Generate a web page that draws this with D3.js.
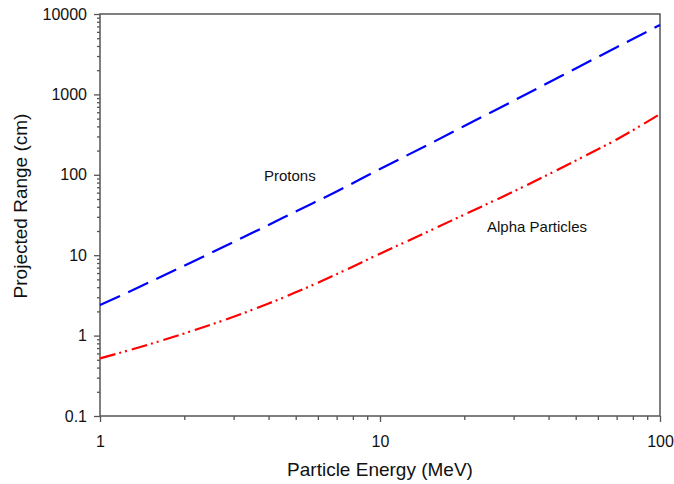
<!DOCTYPE html>
<html>
<head>
<meta charset="utf-8">
<script src="https://cdn.jsdelivr.net/npm/d3@7"></script>
<style>
  body { margin: 0; background: #fff; }
  text { font-family: "Liberation Sans", Arial, sans-serif; fill: #111; }
</style>
</head>
<body>
<svg class="chart" width="674" height="484"></svg>
<script>
// particle energy (MeV)
const energies = [1, 1.5, 2, 3, 4, 5, 7, 10, 15, 20, 30, 50, 70, 100]
// projected range (cm)
const protonRange = [2.4, 4.6, 7.4, 14.6, 23.8, 35, 62, 118, 241, 404, 835, 2100, 3860, 7300]
const alphaRange = [0.52, 0.78, 1.064, 1.716, 2.51, 3.45, 5.81, 10.46, 20, 32, 62, 150, 275, 570]

const xTickLabels = [1, 10, 100]
const yTickLabels = [0.1, 1, 10, 100, 1000, 10000]

const margin = { top: 14, right: 14, bottom: 68, left: 100 }
const width = 674 - margin.left - margin.right
const height = 484 - margin.top - margin.bottom

const svg = d3.select('svg.chart')
const g = svg.append('g').attr('transform', `translate(${margin.left},${margin.top})`)

const x = d3.scaleLog().domain([1, 100]).range([0, width])
const y = d3.scaleLog().domain([0.1, 10000]).range([height, 0])

const axisColor = '#555'

// minor ticks, 2..9 in each decade
const xMinor = []
for (let d = 1; d < 100; d *= 10) for (let k = 2; k <= 9; k++) xMinor.push(d * k)
const yMinor = []
for (let d = 0.1; d < 10000; d *= 10) for (let k = 2; k <= 9; k++) yMinor.push(+(d * k).toPrecision(3))

g.append('g').attr('transform', `translate(0,${height})`)
  .call(d3.axisBottom(x).tickValues(xTickLabels).tickFormat(d3.format('d')).tickSize(6).tickPadding(14))
g.append('g').attr('transform', `translate(0,${height})`)
  .call(d3.axisBottom(x).tickValues(xMinor).tickFormat('').tickSize(4))

g.append('g')
  .call(d3.axisLeft(y).tickValues(yTickLabels).tickFormat(d => String(d)).tickSize(6).tickPadding(7))
g.append('g')
  .call(d3.axisLeft(y).tickValues(yMinor).tickFormat('').tickSize(3))

g.selectAll('.domain').remove()
g.selectAll('.tick line').attr('stroke', axisColor).attr('stroke-width', 1.3)
g.selectAll('.tick text').style('font-size', '16px').attr('fill', '#111')

// frame
g.append('rect')
  .attr('width', width)
  .attr('height', height)
  .attr('fill', 'none')
  .attr('stroke', axisColor)
  .attr('stroke-width', 1.5)

const line = d3.line()
  .x(d => x(d[0]))
  .y(d => y(d[1]))
  .curve(d3.curveMonotoneX)

g.append('path')
  .datum(energies.map((e, i) => [e, protonRange[i]]))
  .attr('d', line)
  .attr('fill', 'none')
  .attr('stroke', '#0000ff')
  .attr('stroke-width', 2.2)
  .attr('stroke-dasharray', '22,9')

g.append('path')
  .datum(energies.map((e, i) => [e, alphaRange[i]]))
  .attr('d', line)
  .attr('fill', 'none')
  .attr('stroke', '#ff0000')
  .attr('stroke-width', 2.2)
  .attr('stroke-dasharray', '16,4,2,4,2,5')

// curve labels
g.append('text')
  .attr('x', 164).attr('y', 167)
  .style('font-size', '15px')
  .text('Protons')

g.append('text')
  .attr('x', 387).attr('y', 218)
  .style('font-size', '15px')
  .text('Alpha Particles')

// axis titles
svg.append('text')
  .attr('x', margin.left + width / 2).attr('y', 476)
  .attr('text-anchor', 'middle')
  .style('font-size', '19px')
  .text('Particle Energy (MeV)')

svg.append('text')
  .attr('transform', 'translate(27,206) rotate(-90)')
  .attr('text-anchor', 'middle')
  .style('font-size', '19px')
  .text('Projected Range (cm)')
</script>
</body>
</html>
